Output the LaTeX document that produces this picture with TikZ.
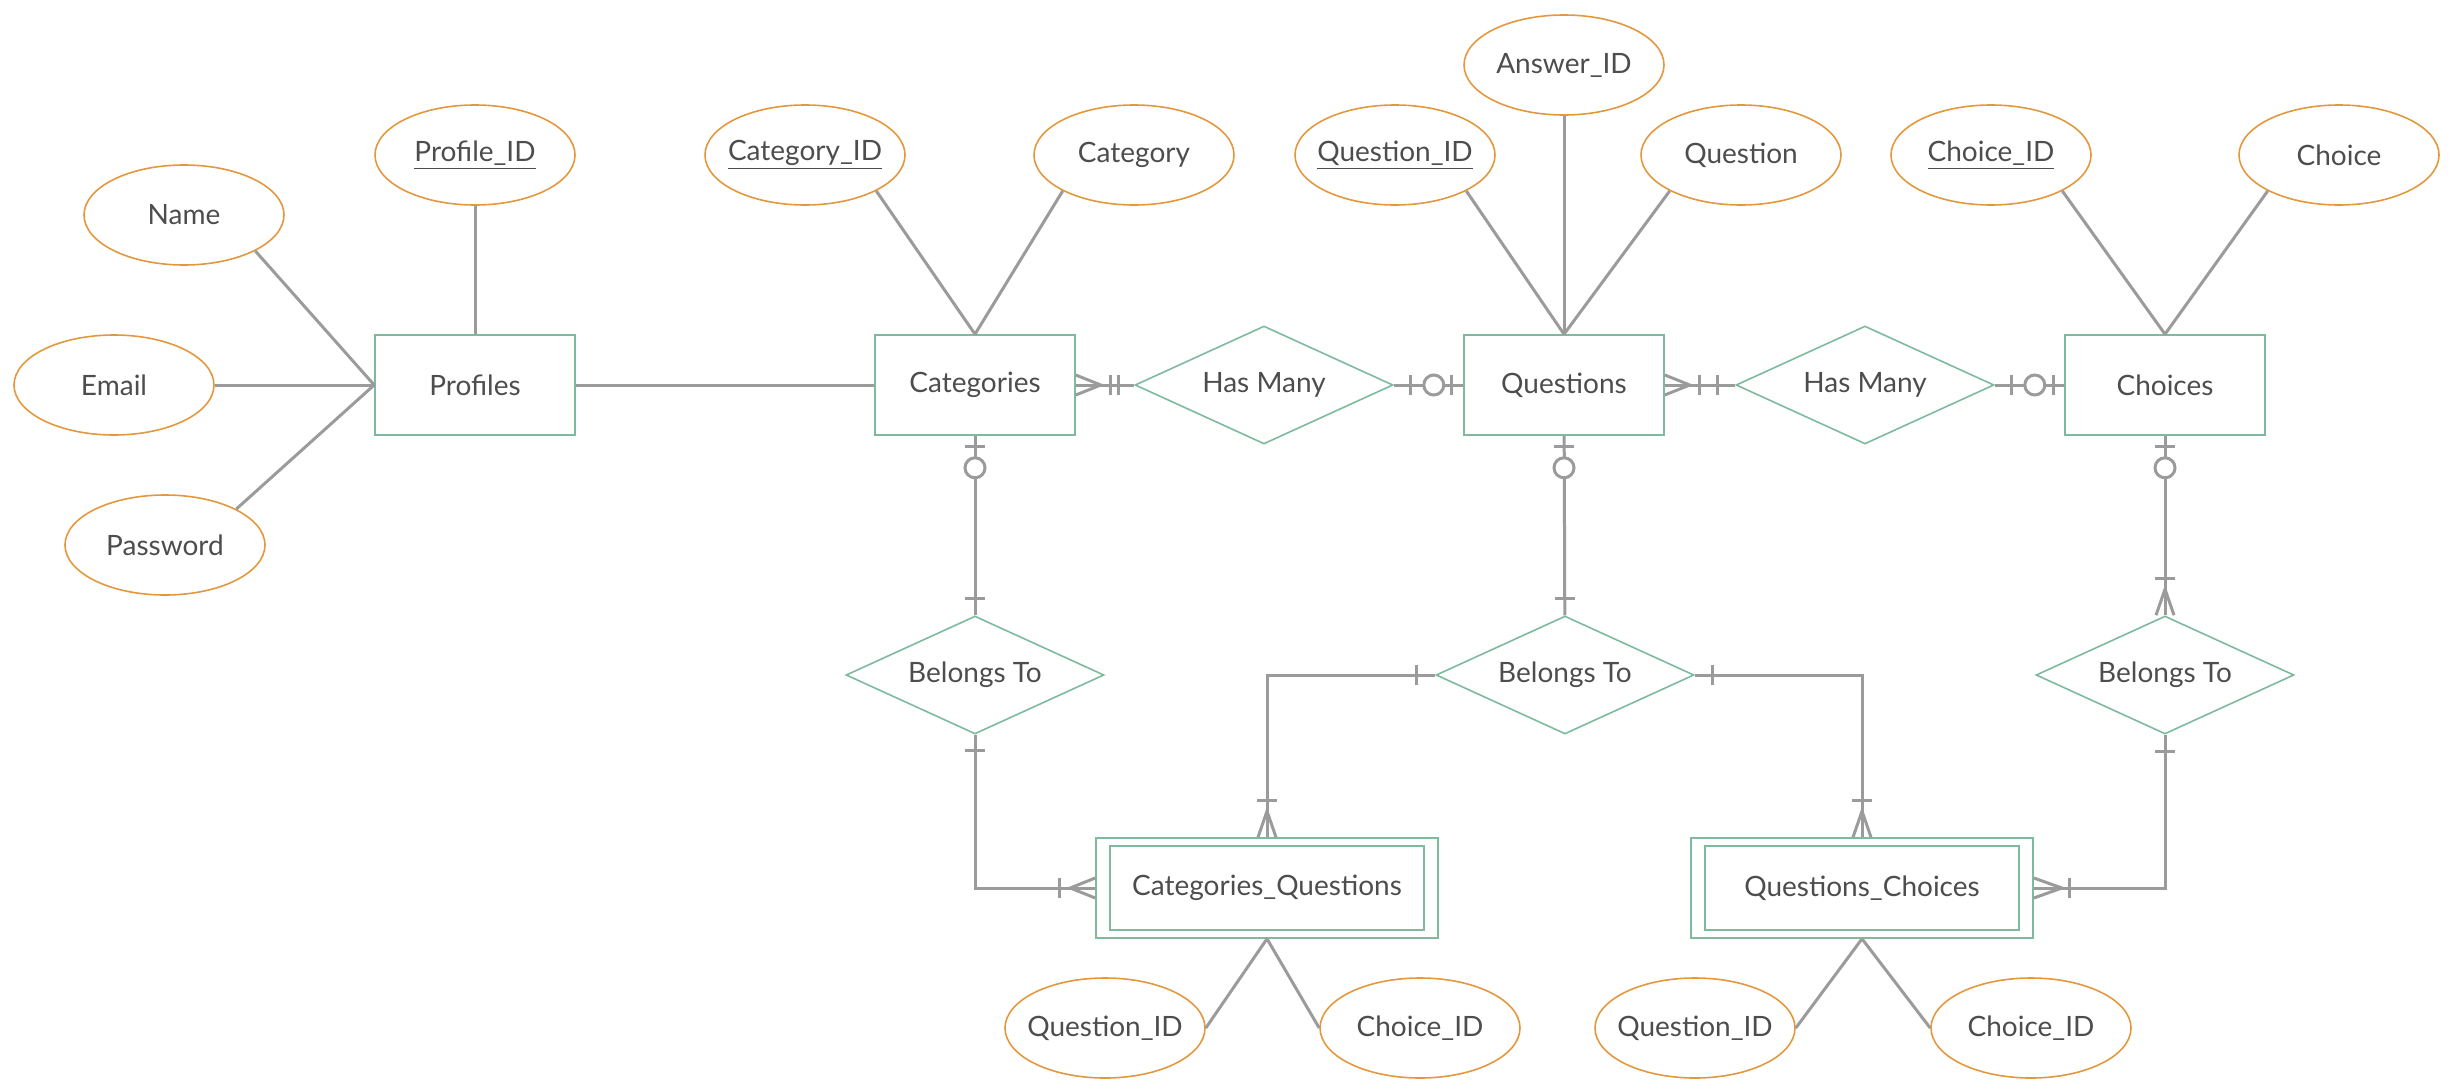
\documentclass[tikz,border=0pt]{standalone}
\usepackage{fontspec}
\setmainfont{Lato}
\usetikzlibrary{shapes.geometric,calc}

\definecolor{entgreen}{RGB}{125,186,158}
\definecolor{attrorange}{RGB}{228,152,62}
\definecolor{linegray}{RGB}{155,155,155}
\definecolor{textgray}{RGB}{77,77,77}

\tikzset{
  entity/.style={draw=entgreen, line width=0.8pt, rectangle, minimum width=100pt, minimum height=50pt, text=textgray},
  weak/.style={entity, minimum width=171pt},
  attr/.style={draw=attrorange, line width=0.8pt, ellipse, minimum width=100pt, minimum height=50pt, inner ysep=0pt, inner xsep=-25pt, text=textgray},
  rel/.style={draw=entgreen, line width=0.8pt, diamond, aspect=2.2, minimum width=129pt, minimum height=59pt, inner sep=0pt, text=textgray},
  link/.style={draw=linegray, line width=1.5pt},
}

% crow's foot pieces (offsets in pixels of the picture)
\newcommand{\tickx}[2]{\draw[link] ($#1+(#2,-10)$) -- ($#1+(#2,10)$);}
\newcommand{\ticky}[2]{\draw[link] ($#1+(-10,#2)$) -- ($#1+(10,#2)$);}
\newcommand{\ringx}[2]{\draw[link,fill=white] ($#1+(#2,0)$) circle[radius=5pt];}
\newcommand{\ringy}[2]{\draw[link,fill=white] ($#1+(0,#2)$) circle[radius=5pt];}
\newcommand{\crowx}[2]{\draw[link] ($#1+(0,-10)$) -- ($#1+(#2,0)$) -- ($#1+(0,10)$);}
\newcommand{\crowy}[2]{\draw[link] ($#1+(-9,0)$) -- ($#1+(0,#2)$) -- ($#1+(9,0)$);}

\begin{document}
\begin{tikzpicture}[x=0.5pt, y=-0.5pt, font=\fontsize{14}{16}\selectfont]
  \useasboundingbox (0,0) rectangle (2453,1092);

  % Entities
  \node[entity] (prof) at (475,385) {Profiles};
  \node[entity] (cat) at (975,385) {Categories};
  \node[entity] (quest) at (1564,385) {Questions};
  \node[entity] (choices) at (2165,385) {Choices};
  \node[weak] (cq) at (1267,888) {Categories\_Questions};
  \node[weak] (qc) at (1862,888) {Questions\_Choices};
  \foreach \w in {cq,qc} {
    \draw[entgreen, line width=0.8pt] ([xshift=7.5pt,yshift=-4.5pt]\w.north west) rectangle ([xshift=-7.5pt,yshift=4.5pt]\w.south east); % inner frame
  }

  % Attributes
  \node[attr] (profid) at (475,155) {\underline{Profile\_ID}};
  \node[attr] (name) at (184,215) {Name};
  \node[attr] (email) at (114,385) {Email};
  \node[attr] (password) at (165,545) {Password};
  \node[attr] (catid) at (805,155) {\underline{Category\_ID}};
  \node[attr] (category) at (1134,155) {Category};
  \node[attr] (ansid) at (1564,65) {Answer\_ID};
  \node[attr] (qid) at (1395,155) {\underline{Question\_ID}};
  \node[attr] (question) at (1741,155) {Question};
  \node[attr] (chid) at (1991,155) {\underline{Choice\_ID}};
  \node[attr] (choice) at (2339,155) {Choice};
  \node[attr] (cqq) at (1105,1028) {Question\_ID};
  \node[attr] (cqc) at (1420,1028) {Choice\_ID};
  \node[attr] (qcq) at (1695,1028) {Question\_ID};
  \node[attr] (qcc) at (2031,1028) {Choice\_ID};

  % Relationships
  \node[rel] (hm1) at (1264,385) {Has Many};
  \node[rel] (hm2) at (1865,385) {Has Many};
  \node[rel] (bt1) at (975,675) {Belongs To};
  \node[rel] (bt2) at (1565,675) {Belongs To};
  \node[rel] (bt3) at (2165,675) {Belongs To};

  % Attribute lines
  \draw[link] (profid) -- (prof);
  \draw[link] (name.south east) -- (prof.west);
  \draw[link] (email) -- (prof.west);
  \draw[link] (password.north east) -- (prof.west);
  \draw[link] (catid.south east) -- (cat.north);
  \draw[link] (category.south west) -- (cat.north);
  \draw[link] (qid.south east) -- (quest.north);
  \draw[link] (ansid) -- (quest.north);
  \draw[link] (question.south west) -- (quest.north);
  \draw[link] (chid.south east) -- (choices.north);
  \draw[link] (choice.south west) -- (choices.north);
  \draw[link] (cq.south) -- (cqq.east);
  \draw[link] (cq.south) -- (cqc.west);
  \draw[link] (qc.south) -- (qcq.east);
  \draw[link] (qc.south) -- (qcc.west);

  % Profiles -- Categories
  \draw[link] (prof) -- (cat);

  % Categories -- Has Many -- Questions
  \draw[link] (cat) -- (hm1);
  \crowx{(cat.east)}{25}
  \tickx{(cat.east)}{35}
  \tickx{(cat.east)}{43}
  \draw[link] (hm1) -- (quest);
  \tickx{(hm1.east)}{17}
  \ringx{(hm1.east)}{40}
  \tickx{(quest.west)}{-12}

  % Questions -- Has Many -- Choices
  \draw[link] (quest) -- (hm2);
  \crowx{(quest.east)}{25}
  \tickx{(quest.east)}{35}
  \tickx{(quest.east)}{53}
  \draw[link] (hm2) -- (choices);
  \tickx{(hm2.east)}{17}
  \ringx{(hm2.east)}{40}
  \tickx{(choices.west)}{-11}

  % Categories -- Belongs To -- Categories_Questions
  \draw[link] (cat) -- (bt1);
  \ticky{(cat.south)}{11}
  \ringy{(cat.south)}{32}
  \ticky{(bt1.north)}{-17}
  \draw[link] (bt1) |- (cq);
  \ticky{(bt1.south)}{16}
  \crowx{(cq.west)}{-25}
  \tickx{(cq.west)}{-36}

  % Questions -- Belongs To -- both link tables
  \draw[link] (quest) -- (bt2);
  \ticky{(quest.south)}{11}
  \ringy{(quest.south)}{32}
  \ticky{(bt2.north)}{-17}
  \draw[link] (bt2) -| (cq);
  \tickx{(bt2.west)}{-19}
  \crowy{(cq.north)}{-26}
  \ticky{(cq.north)}{-37}
  \draw[link] (bt2) -| (qc);
  \tickx{(bt2.east)}{18}
  \crowy{(qc.north)}{-26}
  \ticky{(qc.north)}{-37}

  % Choices -- Belongs To -- Questions_Choices
  \draw[link] (choices) -- (bt3);
  \ticky{(choices.south)}{11}
  \ringy{(choices.south)}{32}
  \crowy{(bt3.north)}{-26}
  \ticky{(bt3.north)}{-37}
  \draw[link] (bt3) |- (qc);
  \ticky{(bt3.south)}{17}
  \crowx{(qc.east)}{28}
  \tickx{(qc.east)}{36}
\end{tikzpicture}
\end{document}
